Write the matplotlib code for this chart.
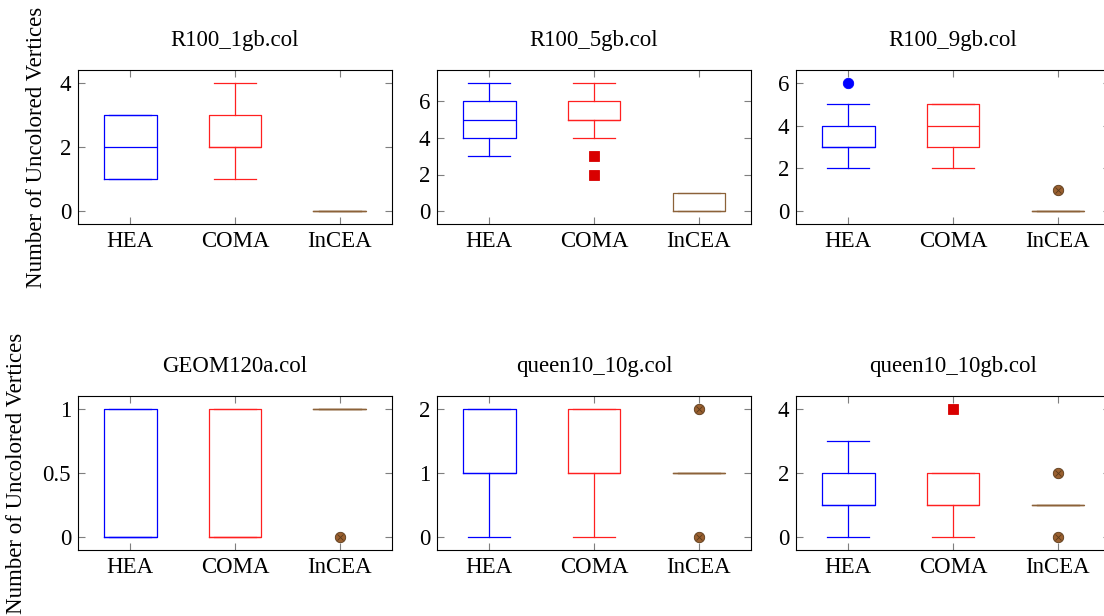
import matplotlib.pyplot as plt
from matplotlib.ticker import FuncFormatter

plt.rcParams["font.family"] = ["Liberation Serif", "DejaVu Serif"]

panels = ["R100_1gb.col", "R100_5gb.col", "R100_9gb.col",
          "GEOM120a.col", "queen10_10g.col", "queen10_10gb.col"]
methods = ["HEA", "COMA", "InCEA"]

# (whislo, q1, median, q3, whishi) per panel
hea_stats = [(1, 1, 2, 3, 3), (3, 4, 5, 6, 7), (2, 3, 3, 4, 5),
             (0, 0, 0, 1, 1), (0, 1, 1, 2, 2), (0, 1, 1, 2, 3)]
hea_fliers = [[], [], [6], [], [], []]
coma_stats = [(1, 2, 2, 3, 4), (4, 5, 5, 6, 7), (2, 3, 4, 5, 5),
              (0, 0, 0, 1, 1), (0, 1, 1, 2, 2), (0, 1, 1, 2, 2)]
coma_fliers = [[], [3, 2], [], [], [], [4]]
incea_stats = [(0, 0, 0, 0, 0), (0, 0, 0, 1, 1), (0, 0, 0, 0, 0),
               (1, 1, 1, 1, 1), (1, 1, 1, 1, 1), (1, 1, 1, 1, 1)]
incea_fliers = [[], [], [1], [0], [2, 0], [2, 0]]

y_ticks = [[0, 2, 4], [0, 2, 4, 6], [0, 2, 4, 6],
           [0, 0.5, 1], [0, 1, 2], [0, 2, 4]]

styles = [
    dict(color="#0000ff", marker="o", mfc="#0000ff", mec="#0000ff"),
    dict(color="#ff2020", marker="s", mfc="#d90000", mec="#d90000"),
    dict(color="#8c6239", marker="o", mfc="#9a6030", mec="#5a3a1a"),
]

W, H = 1104, 616
fig = plt.figure(figsize=(W / 100, H / 100), dpi=100)

lefts = [78, 437, 796]
tops = [70, 396]
aw, ah = 314, 154
fs = 16.5

for i, name in enumerate(panels):
    r, c = divmod(i, 3)
    ax = fig.add_axes([lefts[c] / W, 1 - (tops[r] + ah) / H, aw / W, ah / H])
    all_stats = [hea_stats[i], coma_stats[i], incea_stats[i]]
    all_fliers = [hea_fliers[i], coma_fliers[i], incea_fliers[i]]
    vals = []
    for k in range(3):
        lo, q1, med, q3, hi = all_stats[k]
        st = dict(whislo=lo, q1=q1, med=med, q3=q3, whishi=hi,
                  fliers=all_fliers[k], label=methods[k])
        vals += [lo, hi] + list(all_fliers[k])
        s = styles[k]
        ax.bxp([st], positions=[k + 1], widths=0.5, capwidths=0.4,
               boxprops=dict(color=s["color"], lw=0.9),
               whiskerprops=dict(color=s["color"], lw=0.9),
               capprops=dict(color=s["color"], lw=0.9),
               medianprops=dict(color=s["color"], lw=0.9),
               flierprops=dict(marker=s["marker"], markerfacecolor=s["mfc"],
                               markeredgecolor=s["mec"], markersize=7.5,
                               markeredgewidth=0.6, linestyle="none"))
    # the crossed-circle look of the InCEA outliers
    if incea_fliers[i]:
        ax.plot([3] * len(incea_fliers[i]), incea_fliers[i], "x",
                color="#5a3a1a", ms=4, mew=0.6)
    lo, hi = min(vals), max(vals)
    pad = 0.1 * (hi - lo)
    ax.set_ylim(lo - pad, hi + pad)
    ax.set_xlim(0.5, 3.5)
    ax.set_xticks([1, 2, 3])
    ax.set_xticklabels(methods)
    ax.set_yticks(y_ticks[i])
    ax.yaxis.set_major_formatter(FuncFormatter(lambda v, p: "%g" % v))
    ax.tick_params(direction="in", top=True, right=True, length=5,
                   width=0.8, color="#7f7f7f", labelsize=fs, pad=5)
    for sp in ax.spines.values():
        sp.set_linewidth(0.8)
    ax.set_title(name, fontsize=fs, pad=17)

label_x = [37, 17]
for r in range(2):
    yc = 1 - (tops[r] + ah / 2) / H
    fig.text(label_x[r] / W, yc, "Number of Uncolored Vertices", rotation=90,
             ha="center", va="center", fontsize=fs)

fig.savefig("out.png", dpi=100)
